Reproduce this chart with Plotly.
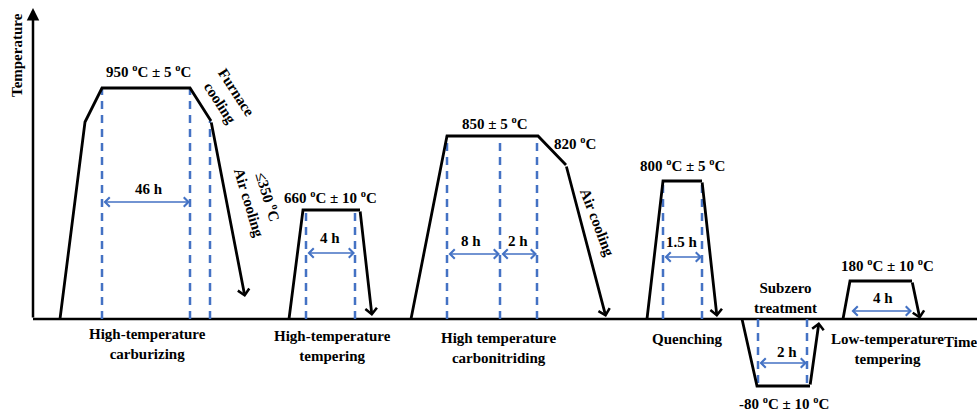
import plotly.graph_objects as go

# ---- Schematic heat-treatment route (time in schematic units, temperature as height above 0 line) ----
# Each stage: heating/holding path points, then the end point of the cooling (or warming) arrow.
carb_t = [60, 85, 102, 190, 211]
carb_T = [0, 197, 231, 231, 198]
carb_end = (245, 22)

temper_t = [289, 303, 360]
temper_T = [0, 109, 109]
temper_end = (372, 3)

cn_t = [411, 447, 538, 566]
cn_T = [0, 183, 183, 154]
cn_end = (606, 2)

quench_t = [647, 663, 702]
quench_T = [0, 138, 138]
quench_end = (717, 2)

subzero_t = [742, 757, 810]
subzero_T = [0, -67, -67]
subzero_end = (819, -3)

lowtemp_t = [843, 850, 912]
lowtemp_T = [0, 38, 38]
lowtemp_end = (920, 0)

# Holding-interval markers (time position, level)
hold_x = [102, 190, 210, 306, 355, 447, 500, 537, 663, 702, 758, 807]
hold_top = [231, 231, 198, 109, 109, 183, 183, 183, 138, 138, -67, -67]

# Duration spans: (start, end, level)
span_start = [102, 306, 447, 500, 663, 758, 850]
span_end = [190, 355, 500, 537, 702, 807, 912]
span_level = [117, 66, 65, 65, 62, -44, 8]

# Text labels
dur_text = ["46 h", "4 h", "8 h", "2 h", "1.5 h", "2 h", "4 h"]
dur_x = [149, 330, 471, 518, 682, 787, 883]
dur_y = [130, 81, 78, 78, 77, -33, 21]

D = "<sup>o</sup>C"
PM = " ± "
temp_text = [f"950 {D}{PM}5 {D}", f"660 {D}{PM}10 {D}", f"850{PM}5 {D}", f"820 {D}",
             f"800 {D}{PM}5 {D}", f"-80 {D}{PM}10 {D}", f"180 {D}{PM}10 {D}"]
temp_x = [148, 330, 495, 575, 682, 784, 887]
temp_y = [248, 122, 196, 176, 154, -84, 54]

stage_text = ["High-temperature<br>carburizing", "High-temperature<br>tempering",
              "High temperature<br>carbonitriding", "Quenching",
              "Subzero<br>treatment", "Low-temperature<br>tempering", "Time"]
stage_x = [147, 332, 498, 687, 785, 887, 960]
stage_y = [-24.5, -27, -28.5, -20, 21.5, -30, -23]

cool_text = ["Furnace<br>cooling", "≤350 " + D + "<br>Air cooling", "Air cooling"]
cool_x = [228, 259, 597]
cool_y = [221, 120, 97]
cool_angle = [57, 73, 69]

BLUE = "#4472C4"
FONT = dict(family="Liberation Serif, Times New Roman, serif", size=15, color="black")

fig = go.Figure()

# Time baseline
fig.add_trace(go.Scatter(x=[33, 977], y=[0, 0], mode="lines",
                         line=dict(color="black", width=2.5), hoverinfo="skip"))

# Holding-time dashed markers
for x, top in zip(hold_x, hold_top):
    fig.add_trace(go.Scatter(x=[x, x], y=[0, top], mode="lines",
                             line=dict(color=BLUE, width=2.5, dash="8px,6px"),
                             hoverinfo="skip"))

stages = [(carb_t, carb_T, carb_end), (temper_t, temper_T, temper_end),
          (cn_t, cn_T, cn_end), (quench_t, quench_T, quench_end),
          (subzero_t, subzero_T, subzero_end), (lowtemp_t, lowtemp_T, lowtemp_end)]

annotations = []
for t, T, end in stages:
    fig.add_trace(go.Scatter(x=t, y=T, mode="lines",
                             line=dict(color="black", width=2.8), hoverinfo="skip"))
    annotations.append(dict(x=end[0], y=end[1], ax=t[-1], ay=T[-1],
                            xref="x", yref="y", axref="x", ayref="y",
                            text="", showarrow=True, arrowhead=4, arrowsize=0.8,
                            arrowwidth=2.8, arrowcolor="black", standoff=0))

# Temperature axis with arrow
annotations.append(dict(x=33, y=311, ax=33, ay=0, xref="x", yref="y",
                        axref="x", ayref="y", text="", showarrow=True,
                        arrowhead=2, arrowsize=1.0, arrowwidth=2.5,
                        arrowcolor="black", standoff=0))
annotations.append(dict(x=17, y=264, xref="x", yref="y", text="<b>Temperature</b>",
                        showarrow=False, textangle=-90, font=FONT))

# Duration double arrows
for s, e, lv in zip(span_start, span_end, span_level):
    annotations.append(dict(x=e, y=lv, ax=s, ay=lv, xref="x", yref="y",
                            axref="x", ayref="y", text="", showarrow=True,
                            arrowhead=4, startarrowhead=4, arrowside="end+start",
                            arrowsize=1.15, startarrowsize=1.15, arrowwidth=1.6,
                            arrowcolor=BLUE, standoff=0, startstandoff=0))

for txt, x, y in zip(dur_text, dur_x, dur_y):
    annotations.append(dict(x=x, y=y, xref="x", yref="y", text=f"<b>{txt}</b>",
                            showarrow=False, font=FONT))
for txt, x, y in zip(temp_text, temp_x, temp_y):
    annotations.append(dict(x=x, y=y, xref="x", yref="y", text=f"<b>{txt}</b>",
                            showarrow=False, font=FONT))
for txt, x, y in zip(stage_text, stage_x, stage_y):
    annotations.append(dict(x=x, y=y, xref="x", yref="y", text=f"<b>{txt}</b>",
                            showarrow=False, font=FONT))
for txt, x, y, a in zip(cool_text, cool_x, cool_y, cool_angle):
    annotations.append(dict(x=x, y=y, xref="x", yref="y", text=f"<b>{txt}</b>",
                            showarrow=False, textangle=a, font=FONT))

fig.update_layout(
    width=977, height=411,
    margin=dict(l=0, r=0, t=0, b=0),
    paper_bgcolor="white", plot_bgcolor="white",
    showlegend=False,
    xaxis=dict(range=[0, 977], visible=False, fixedrange=True),
    yaxis=dict(range=[-92, 319], visible=False, fixedrange=True),
    annotations=annotations,
)

fig.write_html("out.html")
